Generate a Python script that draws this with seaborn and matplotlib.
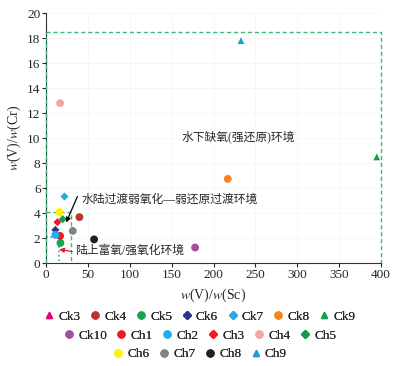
import numpy as np
import pandas as pd
import matplotlib
matplotlib.use("Agg")
import matplotlib.pyplot as plt
from matplotlib.lines import Line2D
import seaborn as sns

# sample names, ratios
samples = ['Ck3', 'Ck4', 'Ck5', 'Ck6', 'Ck7', 'Ck8', 'Ck9', 'Ck10',
           'Ch1', 'Ch2', 'Ch3', 'Ch4', 'Ch5', 'Ch6', 'Ch7', 'Ch8', 'Ch9']
v_sc = [11.5, 39.8, 17.1, 11.1, 21.9, 217, 395, 178,
        16.7, 11.1, 13.5, 16.7, 19.9, 15.9, 31.8, 57.3, 232.8]
v_cr = [2.4, 3.68, 1.62, 2.66, 5.33, 6.74, 8.5, 1.25,
        2.18, 2.26, 3.28, 12.8, 3.52, 4.08, 2.58, 1.9, 17.8]
colors = ['#e6007e', '#b5372f', '#1aa34a', '#2e3192', '#27aae1', '#f58220', '#13a049', '#a3509c',
          '#ed1c24', '#1cb0ec', '#ed1c24', '#f4a3a8', '#139a4a', '#fff200', '#808285', '#231f20', '#1e9be0']
shapes = ['^', 'o', 'o', 'D', 'D', 'o', '^', 'o',
          'o', 'o', 'D', 'o', 'D', 'o', 'o', 'o', '^']
legend_rows = [samples[0:7], samples[7:13], samples[13:17]]

df = pd.DataFrame({'sample': samples, 'x': v_sc, 'y': v_cr})
pal = dict(zip(samples, colors))
mk = dict(zip(samples, shapes))
sizes = {'o': 32, 'D': 17, '^': 24}

sns.set_style('white')
plt.rcParams['font.family'] = ['Liberation Serif', 'Noto Sans CJK SC']
plt.rcParams['mathtext.fontset'] = 'stix'

fig = plt.figure(figsize=(4.01, 3.66), dpi=100)
ax = fig.add_axes([0.115, 0.281, 0.835, 0.683])

# reference frames
green = '#3cb878'
ax.plot([0, 400, 400], [18.5, 18.5, 0], color=green, lw=1, dashes=(3, 2), clip_on=False)
ax.plot([0, 0], [0, 18.5], color=green, lw=1, dashes=(3, 2), clip_on=False, zorder=3)
ax.plot([0, 30, 30], [4.13, 4.13, 0], color=green, lw=1, dashes=(3, 2))
ax.plot([0, 15, 15], [2.08, 2.08, 0], ls=':', color='#27aae1', lw=1.2)

for s in samples:
    sub = df[df['sample'] == s]
    sns.scatterplot(data=sub, x='x', y='y', color=pal[s], marker=mk[s],
                    s=sizes[mk[s]], edgecolor='none', ax=ax, legend=False, zorder=3)

ax.text(162, 10.1, '水下缺氧(强还原)环境', fontsize=8.5, va='center')
ax.text(42.6, 5.06, '水陆过渡弱氧化—弱还原过渡环境', fontsize=8.5, va='center')
ax.text(34.6, 1.0, '陆上富氧/强氧化环境', fontsize=8.5, va='center')
ax.annotate('', xy=(23.9, 3.25), xytext=(37.4, 5.33),
            arrowprops=dict(arrowstyle='-|>', color='black', lw=0.9, mutation_scale=7,
                            shrinkA=0, shrinkB=0))
ax.annotate('', xy=(15.5, 1.1), xytext=(31, 0.93),
            arrowprops=dict(arrowstyle='-|>', color='#ed1c24', lw=0.9, mutation_scale=7,
                            shrinkA=0, shrinkB=0))

ax.set_xlim(0, 400)
ax.set_ylim(0, 20)
ax.set_xticks(np.arange(0, 401, 50))
ax.set_yticks(np.arange(0, 21, 2))
ax.grid(True, color='#f4f4f4', lw=0.5)
sns.despine(ax=ax)
for sp in ['left', 'bottom']:
    ax.spines[sp].set_color('#333333')
    ax.spines[sp].set_linewidth(0.8)
ax.tick_params(axis='both', labelsize=9.5, length=3, width=0.8, direction='out',
               left=True, bottom=True, pad=1)
ax.set_xlabel(r'$w$(V)/$w$(Sc)', fontsize=10, labelpad=4)
ax.set_ylabel(r'$w$(V)/$w$(Cr)', fontsize=10, labelpad=3)

row_y = [0.134, 0.082, 0.032]
for row, yy in zip(legend_rows, row_y):
    handles = [Line2D([], [], ls='none', marker=mk[s], color=pal[s],
                      markersize=5 if mk[s] == 'o' else 4.5, label=s) for s in row]
    leg = fig.legend(handles=handles, loc='center', bbox_to_anchor=(0.5, yy), ncol=len(row),
                     frameon=False, fontsize=9.5, handlelength=0.6, handletextpad=0.4,
                     columnspacing=0.8, borderpad=0)
    fig.add_artist(leg)

fig.savefig('out.png', dpi=100)
